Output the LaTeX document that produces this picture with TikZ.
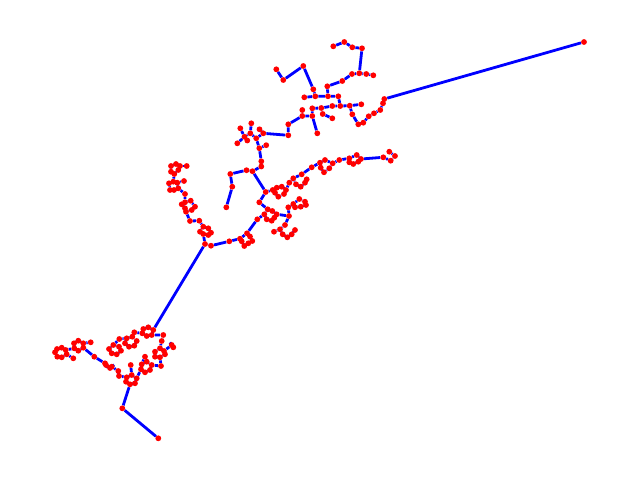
\documentclass[tikz,border=0pt]{standalone}
\usetikzlibrary{backgrounds}

\tikzset{
  vertex/.style = {circle, fill = red, inner sep = 0pt, minimum size = 5.8pt},
  link/.style = {blue, line width = 2.8pt}
}

\begin{document}
\begin{tikzpicture}[x = 1pt, y = -1pt]

\useasboundingbox (0, 0) rectangle (640, 480);

% bottom part
\foreach \name/\xx/\yy in {b1/158.3/438.3, b2/122.3/408.3, b3/130.7/365, b4/119/376, b5/118.3/371, b6/111.7/366.7, b7/110/368, b8/106/365, b9/105/363.3, b10/94.3/356.7, b11/90.7/342.3, b12/73.3/358.3, b13/145/356.7, b14/161/366, b15/171.7/345, b16/173.3/347.3, b17/161.7/341, b18/163.3/335, b19/134.3/332.3, b20/119.3/339, b21/205/244,
  d1/131.7/375, d2/136.7/378.3, d3/135/383.3, d4/130/384.3, d5/126/381.7, d6/126.7/377.3,
  c1/146.7/361.7, c2/151.7/365, c3/150/370, c4/145/372.3, c5/141/369.3, c6/141.7/364.3,
  e1/160/348.3, e2/164/351, e3/165/354.3, e4/160/357.3, e5/155/356.7, e6/155/351.7,
  a1/143.3/329, a2/148.3/327.3, a3/153.3/330, a4/151.7/335, a5/146.7/336, a6/142.3/333.3,
  f1/126.7/338.3, f2/132.3/336.7, f3/136.7/341, f4/134.3/345.7, f5/129/346.7, f6/125/343.3,
  g1/113.3/345, g2/119/346.7, g3/121/350.7, g4/116.7/354.3, g5/111.7/353.3, g6/109/349,
  h1/78.3/340.7, h2/83.3/343.3, h3/83.3/347.7, h4/78.3/350.7, h5/74.3/348.3, h6/74/343.3,
  i1/61.7/347.7, i2/65.7/350, i3/66.7/354.3, i4/61.7/357.3, i5/57.3/356.7, i6/55/352.3, i7/57/349} {
  \node[vertex] (\name) at (\xx, \yy) {};
}

% left column
\foreach \name/\xx/\yy in {l1/211/245.7, l2/199.3/220.7, l3/190/221, l4/185/194, l5/184/181, l6/186.7/166,
  q1/203.3/226.7, q2/208.3/228.3, q3/211/232.7, q4/208.3/235, q5/203.3/234, q6/200/231.7,
  r1/185/202.3, r2/190.7/200.7, r3/195/206.7, r4/191.7/210, r5/186/211.7, r6/185/208.3, r7/181.7/204.3,
  s1/173.3/181.7, s2/177.3/182.7, s3/178.3/188.3, s4/174/190, s5/170/190, s6/169/183.3,
  t1/180/166, t2/176/164, t3/171/166, t4/171/171.7, t5/174.3/174, t6/178.3/170} {
  \node[vertex] (\name) at (\xx, \yy) {};
}

% middle part
\foreach \name/\xx/\yy in {m1/229.3/241.3, m2/257.3/219.3, m3/259.3/202.3, m4/265.7/192, m5/289/216, m6/285/225, m7/280/229.3, m8/274/231.7, m9/282.7/234.3, m10/287.3/237.3, m11/291.7/234.3, m12/295/230, m13/288.3/207.3, m14/293.3/204, m15/299.3/199, m16/305/201.7, m17/306/205, m18/300.7/206.7, m19/295/207.3,
  j1/240/238.7, j2/247/233.3, j3/250/236.5, j4/252.3/241, j5/248.3/243.3, j6/244.3/246, j7/241.7/241.3,
  k1/267.7/209.3, k2/272.3/211, k3/276.7/214.3, k4/274.3/217.7, k5/271.7/220.7, k6/266.7/219.3, k7/264.3/214.3,
  n1/272.7/190, n2/276.7/187.7, n3/281.7/186.7, n4/286/190, n5/284/194, n6/278.3/196.7, n7/275/192.7,
  o1/289.3/182.7, o2/293.3/178.3, o3/301.7/174.3, o4/306.7/179.3, o5/305/182.7, o6/300.7/186.7, o7/296/184.3,
  p1/311.7/167.3, p2/320/162.7, p3/325/160, p4/332.7/163.3, p5/329.3/168.3, p6/324/172.3, p7/320.7/167.7,
  u1/339.3/160, u2/349.3/158.3, u3/356.7/155, u4/361/159, u5/358.3/161.7, u6/353.3/164, u7/349.3/162.3,
  u8/383.3/157.3, u9/390.7/160.7, u10/395/156, u11/389.3/151.7} {
  \node[vertex] (\name) at (\xx, \yy) {};
}

% top part
\foreach \name/\xx/\yy in {v1/226.3/207.3, v2/232.3/186.7, v3/230.3/174, v4/246.5/170.2, v5/252.5/171.2, v6/261.3/166.5, v7/261.3/161.3, v8/259.3/148.2, v9/266.2/145.2, v10/256.2/138.3, v11/250.3/133.3, v12/251.3/123.3, v13/244.5/136.8, v14/240.3/128.3, v15/237.3/143.3, v16/247.3/140.5, v17/259.5/129.3, v18/263.3/133.3, v19/288.3/135.3, v20/288.3/124.3,
  w1/302.3/116, w2/302.3/110, w3/312.3/116, w4/317.3/133.3, w5/312.3/108.3, w6/321.3/108, w7/322.7/114, w8/332.3/118.3, w9/332.3/106, w10/340.3/106, w11/349.7/105.7, w12/361.3/104.3, w13/352.3/114.3, w14/358.3/124.3, w15/363.3/122.7, w16/368.7/116.3, w17/374/113.3, w18/380.3/110, w19/383/103.3, w20/384.3/99, w21/584/42,
  y1/338.3/96.3, y2/328/96.3, y3/315.3/96.3, y4/304.3/97.3, y5/313.3/89.3, y6/303.3/66, y7/283.3/80, y8/276.3/69.3, y9/327.3/86.3, y10/342.3/81, y11/352/74, y12/359.3/73.3, y13/366.3/74, y14/373.3/75.3, y15/362/48.3, y16/352.3/47.3, y17/344.3/42, y18/333.3/46.3} {
  \node[vertex] (\name) at (\xx, \yy) {};
}

\begin{scope}[on background layer]
  % trunk and rings at the bottom
  \draw[link] (b1) -- (b2) -- (d4) -- (d5) -- (d6) -- (d1) -- (d2) -- (d3) -- (d4);
  \draw[link] (b3) -- (d1);
  \draw[link] (d6) -- (b4) -- (b5) -- (b6) -- (b7) -- (b8) -- (b9) -- (b10) -- (h3) -- (h4) -- (h5) -- (h6) -- (h1) -- (h2) -- (h3);
  \draw[link] (h2) -- (b11);
  \draw[link] (h5) -- (i2) -- (i1) -- (i7) -- (i6) -- (i5) -- (i4) -- (i3) -- (i2);
  \draw[link] (i3) -- (b12);
  \draw[link] (d2) -- (c5) -- (c6) -- (c1) -- (c2) -- (c3) -- (c4) -- (c5);
  \draw[link] (c6) -- (b13);
  \draw[link] (c2) -- (b14) -- (e4) -- (e5) -- (e6) -- (e1) -- (e2) -- (e3) -- (e4);
  \draw[link] (e2) -- (b15) -- (b16);
  \draw[link] (e1) -- (b17) -- (b18) -- (a4) -- (a3) -- (a2) -- (a1) -- (a6) -- (a5) -- (a4);
  \draw[link] (a6) -- (b19) -- (f2) -- (f3) -- (f4) -- (f5) -- (f6) -- (f1) -- (f2);
  \draw[link] (f1) -- (b20) -- (g1) -- (g2) -- (g3) -- (g4) -- (g5) -- (g6) -- (g1);
  \draw[link] (a3) -- (b21);

  % left column
  \draw[link] (b21) -- (q5) -- (q6) -- (q1) -- (q2) -- (q3) -- (q4) -- (q5);
  \draw[link] (q1) -- (l2) -- (l3) -- (r5) -- (r4) -- (r3) -- (r2) -- (r1) -- (r7) -- (r6) -- (r5);
  \draw[link] (r1) -- (l4) -- (s3) -- (s4) -- (s5) -- (s6) -- (s1) -- (s2) -- (s3);
  \draw[link] (s2) -- (l5);
  \draw[link] (s1) -- (t5) -- (t4) -- (t3) -- (t2) -- (t1) -- (t6) -- (t5);
  \draw[link] (t1) -- (l6);

  % middle part
  \draw[link] (b21) -- (l1) -- (m1) -- (j1) -- (j2) -- (j3) -- (j4) -- (j5) -- (j6) -- (j7) -- (j1);
  \draw[link] (j2) -- (m2) -- (k7) -- (k1) -- (k2) -- (k3) -- (k4) -- (k5) -- (k6) -- (k7);
  \draw[link] (k1) -- (m3) -- (m4);
  \draw[link] (k3) -- (m5) -- (m6) -- (m7) -- (m8);
  \draw[link] (m7) -- (m9) -- (m10) -- (m11) -- (m12);
  \draw[link] (m5) -- (m13) -- (m14) -- (m15) -- (m16) -- (m17) -- (m18) -- (m19) -- (m14);
  \draw[link] (m4) -- (n1) -- (n2) -- (n3) -- (n4) -- (n5) -- (n6) -- (n7) -- (n1);
  \draw[link] (n4) -- (o1) -- (o2) -- (o3) -- (p1) -- (p2) -- (p3) -- (p4) -- (p5) -- (p6) -- (p7) -- (p2);
  \draw[link] (o2) -- (o7) -- (o6) -- (o5) -- (o4);
  \draw[link] (p4) -- (u1) -- (u2) -- (u3) -- (u4) -- (u5) -- (u6) -- (u7) -- (u2);
  \draw[link] (u4) -- (u8) -- (u9) -- (u10) -- (u11);

  % top part
  \draw[link] (m4) -- (v5) -- (v4) -- (v3) -- (v2) -- (v1);
  \draw[link] (v5) -- (v6) -- (v7) -- (v8) -- (v10) -- (v11) -- (v12);
  \draw[link] (v8) -- (v9);
  \draw[link] (v11) -- (v13) -- (v14);
  \draw[link] (v13) -- (v15);
  \draw[link] (v13) -- (v16);
  \draw[link] (v10) -- (v18) -- (v17);
  \draw[link] (v18) -- (v19) -- (v20) -- (w1) -- (w2);
  \draw[link] (w1) -- (w3) -- (w4);
  \draw[link] (w3) -- (w5) -- (w6) -- (w9) -- (w10) -- (w11) -- (w12);
  \draw[link] (w6) -- (w7) -- (w8);
  \draw[link] (w11) -- (w13) -- (w14) -- (w15) -- (w16) -- (w17) -- (w18) -- (w19) -- (w20) -- (w21);
  \draw[link] (w10) -- (y1) -- (y2) -- (y3) -- (y4);
  \draw[link] (y3) -- (y5) -- (y6) -- (y7) -- (y8);
  \draw[link] (y2) -- (y9) -- (y10) -- (y11) -- (y12) -- (y13) -- (y14);
  \draw[link] (y12) -- (y15) -- (y16) -- (y17) -- (y18);
\end{scope}

\end{tikzpicture}
\end{document}
